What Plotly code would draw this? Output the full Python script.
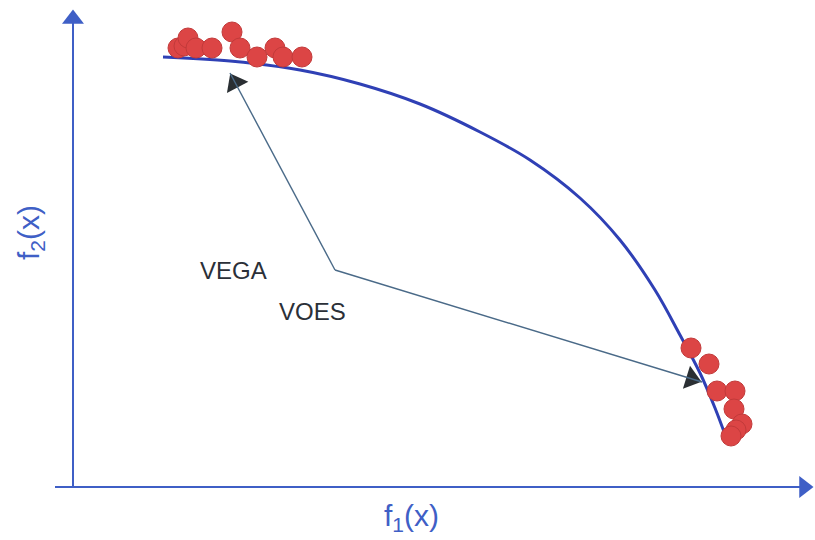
import math
import plotly.graph_objects as go

# Pareto front (f1, f2) in canvas units
front_x = [163, 230, 300, 360, 420, 480, 530, 580, 620, 655, 680, 700, 715, 727]
front_y = [57, 61, 70, 84, 104, 132, 160, 198, 240, 290, 335, 373, 408, 440]

# VEGA solutions cluster near the f2 extreme
vega_x = [178, 184, 188, 196, 212, 232, 240, 257, 275, 283, 302]
vega_y = [48, 46, 38, 48, 48, 32, 48, 57, 48, 57, 57]

# VOES solutions cluster near the f1 extreme
voes_x = [691, 709, 717, 735, 734, 742, 736, 731]
voes_y = [348, 364, 391, 391, 409, 424, 430, 436]

labels = ["VEGA", "VOES"]
label_x = [233, 312]
label_y = [270, 311]

# arrows from the label junction to each cluster
junction = (335, 270)
arrow_tips = [(230, 73), (702, 382)]

# axis origin and arrow tips
origin_x, origin_y = 73, 487
y_axis_top = 10
x_axis_start, x_axis_end = 55, 813

axis_blue = "#3f5fc6"
fig = go.Figure()

# axes: lines with triangular heads
fig.add_shape(type="line", x0=origin_x, y0=origin_y, x1=origin_x, y1=y_axis_top + 10,
              xref="x", yref="y", line=dict(color=axis_blue, width=2))
fig.add_shape(type="line", x0=x_axis_start, y0=origin_y, x1=x_axis_end - 10, y1=origin_y,
              xref="x", yref="y", line=dict(color=axis_blue, width=2))
fig.add_trace(go.Scatter(
    x=[origin_x, x_axis_end - 9], y=[y_axis_top + 9, origin_y],
    mode="markers", hoverinfo="skip", showlegend=False,
    marker=dict(symbol=["triangle-up", "triangle-right"], size=19,
                color=axis_blue, line=dict(width=0))))

fig.add_trace(go.Scatter(
    x=front_x, y=front_y, mode="lines",
    line=dict(color="#2f40b5", width=3, shape="spline", smoothing=1.0),
    hoverinfo="skip", showlegend=False))

for xs, ys in [(vega_x, vega_y), (voes_x, voes_y)]:
    fig.add_trace(go.Scatter(
        x=xs, y=ys, mode="markers",
        marker=dict(size=20, color="#dc4545", line=dict(color="#c23a3a", width=1)),
        showlegend=False))

# pointer shafts with dark triangular heads
head_x, head_y, head_angle = [], [], []
for tx, ty in arrow_tips:
    fig.add_shape(type="line", x0=junction[0], y0=junction[1], x1=tx, y1=ty,
                  xref="x", yref="y", line=dict(color="#4a6a88", width=1.4))
    dx, dy = tx - junction[0], ty - junction[1]
    n = math.hypot(dx, dy)
    head_x.append(tx - 11 * dx / n)
    head_y.append(ty - 11 * dy / n)
    head_angle.append(math.degrees(math.atan2(dx, -dy)))

fig.add_trace(go.Scatter(
    x=head_x, y=head_y, mode="markers", hoverinfo="skip", showlegend=False,
    marker=dict(symbol="triangle-up", size=21, angle=head_angle,
                color="#2a2f33", line=dict(width=0))))

for t, lx, ly in zip(labels, label_x, label_y):
    fig.add_annotation(x=lx, y=ly, text=t, showarrow=False, xref="x", yref="y",
                       font=dict(family="Liberation Sans, Arial", size=24, color="#2b3038"))

fig.add_annotation(x=411, y=517, text="f<sub>1</sub>(x)", showarrow=False, xref="x", yref="y",
                   font=dict(family="Liberation Sans, Arial", size=30, color="#3f5fc6"))
fig.add_annotation(x=30, y=233, text="f<sub>2</sub>(x)", showarrow=False, xref="x", yref="y",
                   textangle=-90,
                   font=dict(family="Liberation Sans, Arial", size=30, color="#3f5fc6"))

fig.update_xaxes(range=[0, 815], visible=False, fixedrange=True)
fig.update_yaxes(range=[540, 0], visible=False, fixedrange=True)
fig.update_layout(width=815, height=540, margin=dict(l=0, r=0, t=0, b=0),
                  paper_bgcolor="white", plot_bgcolor="white")

fig.write_html("out.html")
